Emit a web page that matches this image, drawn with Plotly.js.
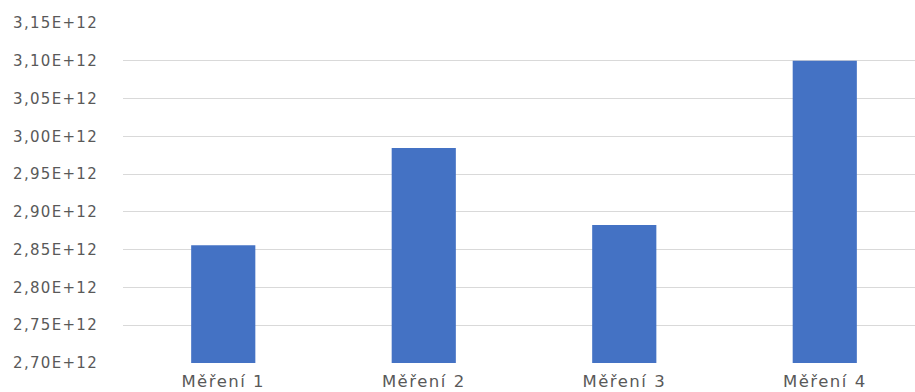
<!DOCTYPE html>
<html>
<head>
<meta charset="utf-8">
<script src="https://cdn.plot.ly/plotly-3.0.1.min.js"></script>
<style>
  html, body { margin: 0; padding: 0; background: #ffffff; }
  #chart { width: 915px; height: 392px; }
  /* slightly wider letter spacing for the axis labels */
  #chart .ytick text { letter-spacing: 1.3px; }
  #chart .xtick text { letter-spacing: 1.5px; }
</style>
</head>
<body>
<div id="chart"></div>
<script>
// Measurement labels and their values
const categories = ["Měření 1", "Měření 2", "Měření 3", "Měření 4"];
const values = [2.856e12, 2.9845e12, 2.8825e12, 3.100e12];

// Y axis ticks, written in Czech decimal-comma scientific notation
const yTickVals = [2.70e12, 2.75e12, 2.80e12, 2.85e12, 2.90e12, 2.95e12, 3.00e12, 3.05e12, 3.10e12, 3.15e12];
const yTickText = ["2,70E+12", "2,75E+12", "2,80E+12", "2,85E+12", "2,90E+12",
                   "2,95E+12", "3,00E+12", "3,05E+12", "3,10E+12", "3,15E+12"];

const trace = {
  type: "bar",
  x: [0, 1, 2, 3],
  y: values,
  base: 0,
  width: 0.32,
  marker: { color: "#4472C4", line: { width: 0 } },
  hoverinfo: "skip"
};

const layout = {
  width: 915,
  height: 392,
  margin: { l: 123, r: 0, t: 23, b: 29 },
  paper_bgcolor: "#ffffff",
  plot_bgcolor: "#ffffff",
  showlegend: false,
  font: { family: "DejaVu Sans, sans-serif", size: 16, color: "#595959" },
  xaxis: {
    range: [-0.5, 3.45],
    tickmode: "array",
    tickvals: [0, 1, 2, 3],
    ticktext: categories,
    showgrid: false,
    zeroline: false,
    showline: false,
    ticks: "",
    ticklabelstandoff: 6,
    tickfont: { family: "DejaVu Sans, sans-serif", size: 16.5, color: "#595959" },
    fixedrange: true
  },
  yaxis: {
    range: [2.70e12, 3.15e12],
    tickmode: "array",
    tickvals: yTickVals,
    ticktext: yTickText,
    showgrid: true,
    gridcolor: "#d9d9d9",
    gridwidth: 1,
    zeroline: false,
    showline: false,
    ticks: "",
    ticklabelstandoff: 24,
    tickfont: { family: "DejaVu Sans, sans-serif", size: 15, color: "#595959" },
    fixedrange: true
  }
};

Plotly.newPlot("chart", [trace], layout, { staticPlot: true, displayModeBar: false });
</script>
</body>
</html>
